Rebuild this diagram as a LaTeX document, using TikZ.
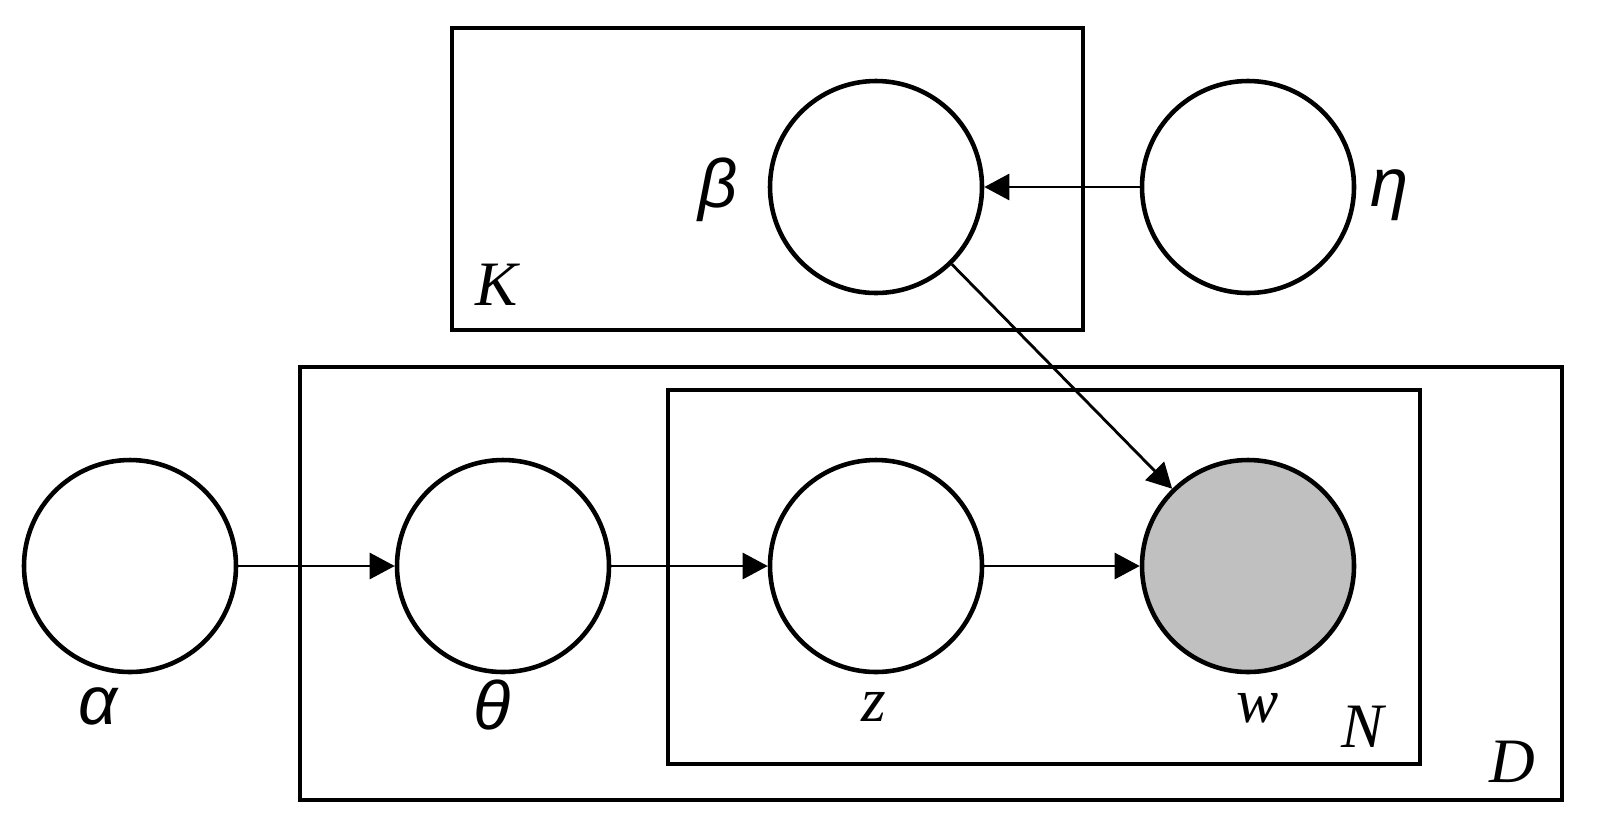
\documentclass[tikz,border=0pt]{standalone}
\usepackage{fontspec}
\setmainfont{Liberation Serif}
\newfontfamily\grkfont{Liberation Sans}
\usetikzlibrary{arrows.meta}
\definecolor{obsgray}{RGB}{192,192,192}
\begin{document}
\begin{tikzpicture}[
  var/.style={circle,draw,line width=1.3pt,minimum size=2.12cm,inner sep=0pt},
  obs/.style={var,fill=obsgray},
  plate/.style={draw,line width=1.3pt},
  edge/.style={line width=0.8pt,-{Triangle[length=2.5mm,width=2.6mm]}},
  glab/.style={font=\grkfont\itshape\fontsize{19.5}{22}\selectfont,inner sep=0pt},
  plab/.style={font=\itshape\fontsize{18}{20}\selectfont,inner sep=0pt}
]
  \useasboundingbox (0,0) rectangle (16.06,8.27);

  % Plates
  \draw[plate] (4.52,7.99) rectangle (10.83,4.97);
  \draw[plate] (3.00,4.60) rectangle (15.62,0.27);
  \draw[plate] (6.68,4.37) rectangle (14.20,0.63);
  \node[plab] (lK) at (4.97,5.42) {K};
  \node[plab] (lD) at (15.12,0.65) {D};
  \node[plab] (lN) at (13.63,1.00) {N};

  % Variables
  \node[var] (alpha) at (1.30,2.61) {};
  \node[var] (theta) at (5.03,2.61) {};
  \node[var] (z) at (8.76,2.61) {};
  \node[obs] (w) at (12.48,2.61) {};
  \node[var] (beta) at (8.76,6.40) {};
  \node[var] (eta) at (12.48,6.40) {};

  % Labels
  \node[glab] (lalpha) at (0.98,1.21) {α};
  \node[glab] (ltheta) at (4.92,1.22) {θ};
  \node[plab] (lz) at (8.74,1.20) {z};
  \node[plab] (lw) at (12.58,1.19) {w};
  \node[glab] (lbeta) at (7.18,6.37) {β};
  \node[glab] (leta) at (13.89,6.32) {η};

  % Edges
  \draw[edge] (alpha) -- (theta);
  \draw[edge] (theta) -- (z);
  \draw[edge] (z) -- (w);
  \draw[edge] (eta) -- (beta);
  \draw[edge] (beta) -- (w);
\end{tikzpicture}
\end{document}
